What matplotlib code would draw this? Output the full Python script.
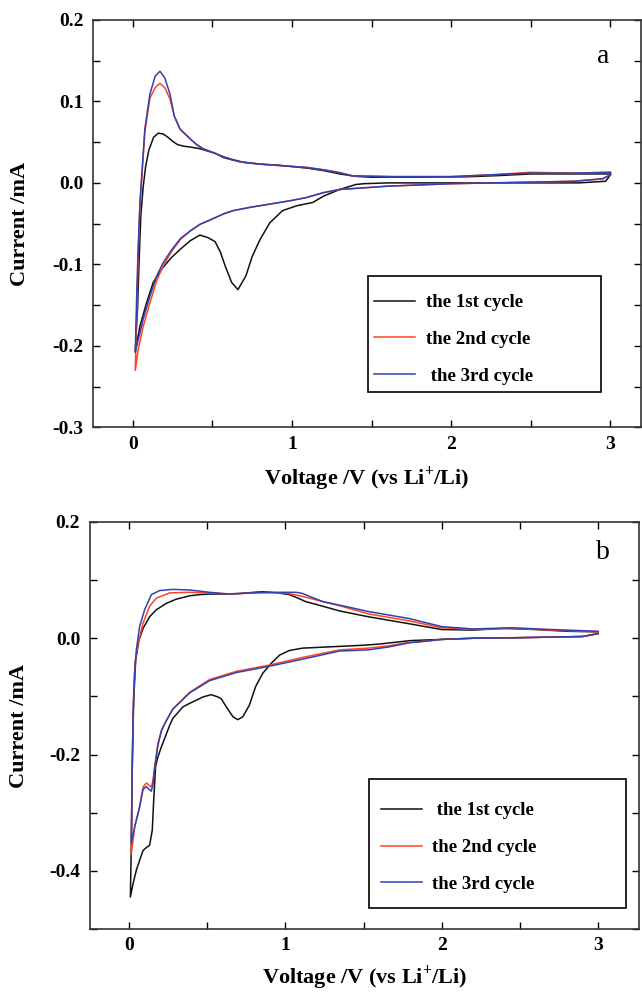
import numpy as np
import matplotlib
matplotlib.use("Agg")
import matplotlib.pyplot as plt
from matplotlib.ticker import MultipleLocator, FormatStrFormatter
from matplotlib.patches import Rectangle

plt.rcParams['font.family'] = ['Liberation Serif', 'DejaVu Serif']
plt.rcParams['mathtext.fontset'] = 'custom'
plt.rcParams['mathtext.rm'] = 'Liberation Serif:bold'
plt.rcParams['mathtext.bf'] = 'Liberation Serif:bold'
plt.rcParams['axes.unicode_minus'] = False

# panel a  (cathodic sweep 3 V -> 0.01 V, then anodic back to 3 V)
a1_v = [3.0, 2.97, 2.8, 2.0, 1.6, 1.45, 1.4, 1.35, 1.3, 1.25, 1.2, 1.13, 1.03, 0.94, 0.86, 0.80, 0.75,
        0.71, 0.66, 0.62, 0.58, 0.55, 0.516, 0.47, 0.42, 0.36, 0.30, 0.24, 0.18, 0.128, 0.086, 0.044, 0.015,
        0.03, 0.04, 0.05, 0.065, 0.08, 0.10, 0.13, 0.16, 0.19, 0.22, 0.25, 0.28, 0.32, 0.36, 0.42, 0.47,
        0.52, 0.57, 0.62, 0.70, 0.80, 0.90, 1.0, 1.1, 1.2, 1.3, 1.4, 1.5, 1.8, 2.1, 2.3, 2.5, 2.7, 2.9, 3.0]
a1_i = [0.010, 0.002, 0.000, 0.000, 0.000, -0.001, -0.002, -0.005, -0.008, -0.012, -0.016, -0.024, -0.028,
        -0.034, -0.049, -0.069, -0.090, -0.114, -0.131, -0.122, -0.102, -0.085, -0.072, -0.067, -0.064,
        -0.071, -0.081, -0.092, -0.106, -0.122, -0.147, -0.176, -0.207,
        -0.15, -0.09, -0.04, -0.004, 0.020, 0.040, 0.056, 0.061, 0.060, 0.056, 0.051, 0.047, 0.045, 0.044,
        0.042, 0.039, 0.036, 0.032, 0.029, 0.025, 0.023, 0.022, 0.020, 0.018, 0.015, 0.011, 0.008, 0.007,
        0.007, 0.0075, 0.009, 0.011, 0.011, 0.011, 0.011]

a2_v = [3.0, 2.95, 2.77, 2.0, 1.6, 1.38, 1.30, 1.196, 1.09, 0.985, 0.86, 0.736, 0.63, 0.57, 0.49, 0.42,
        0.36, 0.30, 0.24, 0.19, 0.15, 0.107, 0.065, 0.034, 0.015,
        0.025, 0.034, 0.044, 0.075, 0.107, 0.14, 0.17, 0.20, 0.233, 0.26, 0.296, 0.36, 0.40, 0.44, 0.52,
        0.57, 0.67, 0.80, 0.94, 1.09, 1.2, 1.30, 1.38, 1.62, 2.0, 2.26, 2.49, 2.77, 3.0]
a2_i = [0.010, 0.005, 0.002, -0.001, -0.004, -0.007, -0.008, -0.012, -0.018, -0.022, -0.026, -0.030,
        -0.034, -0.038, -0.045, -0.051, -0.059, -0.069, -0.085, -0.102, -0.120, -0.147, -0.176, -0.204, -0.230,
        -0.15, -0.085, -0.028, 0.062, 0.104, 0.117, 0.122, 0.117, 0.103, 0.082, 0.066, 0.054, 0.047, 0.042,
        0.036, 0.031, 0.026, 0.023, 0.021, 0.019, 0.016, 0.0125, 0.0086, 0.0077, 0.0077, 0.010, 0.013,
        0.012, 0.013]

a3_v = [3.0, 2.95, 2.77, 2.0, 1.6, 1.38, 1.30, 1.196, 1.09, 0.985, 0.86, 0.736, 0.63, 0.57, 0.49, 0.42,
        0.36, 0.30, 0.24, 0.19, 0.15, 0.107, 0.065, 0.034, 0.015,
        0.025, 0.034, 0.044, 0.075, 0.107, 0.14, 0.17, 0.20, 0.233, 0.26, 0.296, 0.36, 0.40, 0.44, 0.52,
        0.57, 0.67, 0.80, 0.94, 1.09, 1.2, 1.30, 1.38, 1.62, 2.0, 2.26, 2.49, 2.77, 3.0]
a3_i = [0.010, 0.005, 0.002, -0.001, -0.004, -0.007, -0.008, -0.012, -0.018, -0.022, -0.026, -0.030,
        -0.034, -0.038, -0.045, -0.051, -0.059, -0.068, -0.083, -0.098, -0.114, -0.139, -0.167, -0.192, -0.208,
        -0.13, -0.075, -0.025, 0.066, 0.109, 0.131, 0.137, 0.129, 0.109, 0.082, 0.066, 0.054, 0.047, 0.042,
        0.036, 0.031, 0.026, 0.023, 0.021, 0.019, 0.016, 0.0125, 0.0086, 0.0077, 0.0077, 0.010, 0.012,
        0.012, 0.013]

# panel b
b1_v = [3.0, 2.9, 2.5, 2.2, 2.0, 1.9, 1.8, 1.7, 1.6, 1.5, 1.346, 1.11, 1.027, 0.963, 0.91, 0.856, 0.81,
        0.77, 0.728, 0.696, 0.665, 0.622, 0.59, 0.569, 0.526, 0.473, 0.388, 0.345, 0.28, 0.26, 0.207, 0.185,
        0.170, 0.158, 0.149, 0.132, 0.111, 0.09, 0.068, 0.047, 0.026, 0.009,
        0.015, 0.021, 0.03, 0.043, 0.064, 0.09, 0.132, 0.175, 0.239, 0.30, 0.388, 0.45, 0.515, 0.6, 0.707,
        0.8, 0.856, 0.95, 1.027, 1.08, 1.13, 1.24, 1.346, 1.53, 1.79, 2.0, 2.2, 2.4, 2.6, 2.8, 3.0]
b1_i = [0.008, 0.003, 0.001, 0.000, -0.002, -0.003, -0.004, -0.007, -0.010, -0.012, -0.014, -0.017,
        -0.021, -0.029, -0.043, -0.060, -0.083, -0.115, -0.135, -0.140, -0.135, -0.118, -0.104, -0.101,
        -0.097, -0.101, -0.112, -0.118, -0.138, -0.150, -0.187, -0.204, -0.221, -0.279, -0.330, -0.356,
        -0.360, -0.365, -0.382, -0.399, -0.422, -0.445,
        -0.35, -0.221, -0.106, -0.037, -0.003, 0.017, 0.037, 0.049, 0.060, 0.067, 0.073, 0.075, 0.076,
        0.076, 0.077, 0.079, 0.080, 0.078, 0.075, 0.069, 0.063, 0.055, 0.047, 0.037, 0.025, 0.015, 0.014,
        0.017, 0.015, 0.012, 0.011]

b2_v = [3.0, 2.9, 2.5, 2.2, 2.0, 1.9, 1.79, 1.66, 1.53, 1.346, 1.11, 0.9, 0.686, 0.515, 0.388, 0.28,
        0.23, 0.207, 0.185, 0.164, 0.153, 0.143, 0.125, 0.111, 0.09, 0.068, 0.036, 0.015,
        0.022, 0.03, 0.04, 0.058, 0.09, 0.132, 0.175, 0.26, 0.388, 0.515, 0.643, 0.8, 1.0, 1.11, 1.24,
        1.346, 1.53, 1.79, 2.0, 2.2, 2.45, 2.7, 3.0]
b2_i = [0.008, 0.003, 0.001, 0.000, -0.002, -0.005, -0.007, -0.013, -0.017, -0.020, -0.033, -0.046,
        -0.057, -0.071, -0.093, -0.122, -0.146, -0.158, -0.181, -0.221, -0.245, -0.256, -0.252, -0.249,
        -0.256, -0.290, -0.325, -0.371,
        -0.20, -0.09, -0.04, -0.009, 0.026, 0.055, 0.069, 0.078, 0.079, 0.078, 0.076, 0.078, 0.078, 0.072,
        0.063, 0.056, 0.042, 0.030, 0.018, 0.015, 0.017, 0.014, 0.011]

b3_v = [3.0, 2.9, 2.5, 2.2, 2.0, 1.9, 1.79, 1.66, 1.53, 1.346, 1.11, 0.9, 0.686, 0.515, 0.388, 0.28,
        0.23, 0.207, 0.185, 0.164, 0.153, 0.143, 0.125, 0.111, 0.09, 0.068, 0.036, 0.015,
        0.020, 0.026, 0.036, 0.047, 0.068, 0.10, 0.143, 0.196, 0.28, 0.388, 0.515, 0.643, 0.856, 1.07,
        1.11, 1.154, 1.24, 1.346, 1.53, 1.79, 2.0, 2.2, 2.45, 2.7, 3.0]
b3_i = [0.008, 0.003, 0.001, 0.000, -0.002, -0.005, -0.008, -0.015, -0.020, -0.022, -0.036, -0.048,
        -0.059, -0.073, -0.094, -0.122, -0.146, -0.160, -0.184, -0.225, -0.252, -0.263, -0.259, -0.255,
        -0.260, -0.290, -0.325, -0.353,
        -0.24, -0.135, -0.06, -0.02, 0.02, 0.049, 0.075, 0.082, 0.084, 0.083, 0.079, 0.076, 0.079, 0.079,
        0.077, 0.072, 0.063, 0.057, 0.046, 0.034, 0.020, 0.016, 0.018, 0.015, 0.012]

colors = ['#111111', '#ff4422', '#3340b0']
labels_a = ['the 1st cycle', 'the 2nd cycle', ' the 3rd cycle']
labels_b = [' the 1st cycle', 'the 2nd cycle', 'the 3rd cycle']

fig = plt.figure(figsize=(6.42, 9.94), dpi=100)
ax1 = fig.add_axes([0.145, 0.570, 0.853, 0.410])
ax2 = fig.add_axes([0.140, 0.0654, 0.855, 0.4095])


def style(ax, ymaj, ymin):
    ax.xaxis.set_major_locator(MultipleLocator(1))
    ax.xaxis.set_minor_locator(MultipleLocator(0.5))
    ax.yaxis.set_major_locator(MultipleLocator(ymaj))
    ax.yaxis.set_minor_locator(MultipleLocator(ymin))
    ax.xaxis.set_major_formatter(FormatStrFormatter('%d'))
    ax.yaxis.set_major_formatter(FormatStrFormatter('%.1f'))
    ax.tick_params(which='both', direction='in', top=True, right=True, width=1.0)
    ax.tick_params(which='major', length=5, labelsize=14)
    ax.tick_params(which='minor', length=5)
    ax.tick_params(axis='x', pad=6)
    ax.tick_params(axis='y', pad=7)
    for t in ax.get_xticklabels() + ax.get_yticklabels():
        t.set_fontweight('bold')
    for s in ax.spines.values():
        s.set_linewidth(1.2)
        s.set_color('#333333')


panels = [
    (ax1, [(a1_v, a1_i), (a2_v, a2_i), (a3_v, a3_i)], labels_a, 'a', (-0.25, 3.19), (-0.3, 0.2), 0.1, 0.05,
     (0.502, 0.087, 0.426, 0.284), (0.513, 0.216), (0.931, 0.909), (-0.133, -0.125)),
    (ax2, [(b1_v, b1_i), (b2_v, b2_i), (b3_v, b3_i)], labels_b, 'b', (-0.25, 3.26), (-0.5, 0.2), 0.2, 0.1,
     (0.509, 0.052, 0.467, 0.317), (0.530, 0.200), (0.934, 0.924), (-0.130, -0.118)),
]

for ax, curves, labels, tag, xl, yl, ymaj, ymin, box, legpos, tagpos, labpos in panels:
    for (v, i), c, lab in zip(curves, colors, labels):
        ax.plot(v, i, color=c, lw=1.1, label=lab)
    ax.set_xlim(*xl)
    ax.set_ylim(*yl)
    style(ax, ymaj, ymin)
    ax.set_xlabel('Voltage /V (vs Li$^{+}$/Li)', fontsize=16, fontweight='bold')
    ax.set_ylabel('Current /mA', fontsize=16, fontweight='bold')
    ax.xaxis.set_label_coords(0.5, labpos[1])
    ax.yaxis.set_label_coords(labpos[0], 0.5)
    ax.xaxis.label.set_va('center')
    ax.yaxis.label.set_va('center')
    ax.text(tagpos[0], tagpos[1], tag, transform=ax.transAxes, fontsize=20, ha='center', va='center')
    # legend frame drawn as a plain box, entries placed inside it
    ax.add_patch(Rectangle((box[0], box[1]), box[2], box[3], transform=ax.transAxes, fill=False,
                           edgecolor='black', lw=1.2, zorder=5))
    ax.legend(loc='center left', bbox_to_anchor=legpos, frameon=False,
              prop={'weight': 'bold', 'size': 13.5}, handlelength=2.2, labelspacing=1.05,
              borderaxespad=0, borderpad=0, handletextpad=0.55)

fig.savefig('out.png', dpi=100)
